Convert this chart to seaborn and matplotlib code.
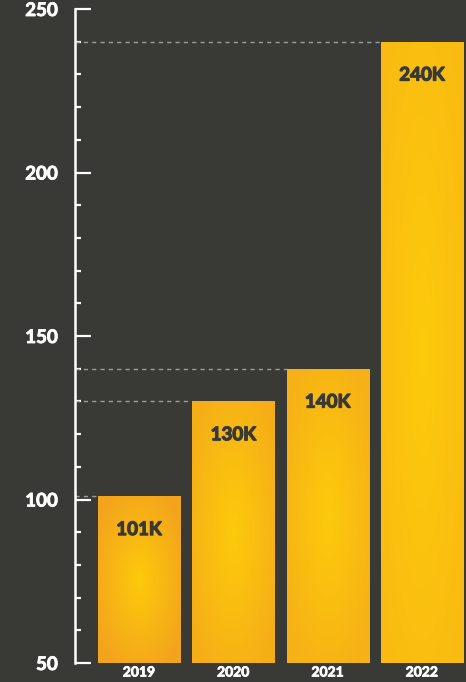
#!/usr/bin/env python3
"""Yearly totals bar chart, dark theme with gold gradient bars."""
import matplotlib
matplotlib.use("Agg")
import matplotlib.patheffects as pe
import matplotlib.pyplot as plt
import numpy as np
import pandas as pd
import seaborn as sns
from matplotlib.colors import LinearSegmentedColormap
from matplotlib.ticker import MultipleLocator

years = ["2019", "2020", "2021", "2022"]
values = [101, 130, 140, 240]
labels = ["101K", "130K", "140K", "240K"]
y_ticks = [50, 100, 150, 200, 250]

BG = "#393935"
TEXT_DARK = "#393935"
GOLD_CENTER = "#fdca0b"
GOLD_EDGE = "#f3a41d"

sns.set_theme(style="white")
plt.rcParams["font.family"] = ["Lato", "DejaVu Sans"]
plt.rcParams["font.weight"] = "bold"

df = pd.DataFrame({"year": years, "value": values})

fig = plt.figure(figsize=(4.66, 6.82), dpi=100, facecolor=BG)
ax = fig.add_axes([74.5 / 466, 19 / 682, 1 - 74.5 / 466, 654 / 682])
ax.set_facecolor(BG)

sns.barplot(data=df, x="year", y="value", ax=ax, color=GOLD_CENTER,
            width=0.87, linewidth=0, zorder=2)

# radial gradient fill, clipped to each bar; tall bars fade less to orange
cmap = LinearSegmentedColormap.from_list("gold", [GOLD_CENTER, GOLD_EDGE])
gx, gy = np.meshgrid(np.linspace(-1, 1, 200), np.linspace(-1, 1, 200))
radial = np.sqrt(gx ** 2 + gy ** 2) / 1.2
shortest = min(p.get_height() - 50 for p in ax.patches)
for patch in ax.patches:
    x0, w, top = patch.get_x(), patch.get_width(), patch.get_height()
    strength = (shortest / (top - 50)) ** 0.75
    grad = np.clip(radial, 0, 1) * strength
    im = ax.imshow(grad, cmap=cmap, vmin=0, vmax=1, aspect="auto",
                   extent=[x0, x0 + w, 50, top], origin="lower", zorder=3)
    im.set_clip_path(patch)

xlim = (-0.684, 3.467)
ax.set_xlim(*xlim)
ax.set_ylim(50, 250)

# dashed guides from the axis to each bar top
for i, v in enumerate(values):
    ax.hlines(v, xlim[0], i - 0.435, colors="#9c9c98", linestyles=(0, (3, 3)),
              linewidth=1.0, zorder=1)

thick_dark = [pe.withStroke(linewidth=0.9, foreground=TEXT_DARK)]
thick_white = [pe.withStroke(linewidth=0.6, foreground="white")]

for i, (v, lab) in enumerate(zip(values, labels)):
    ax.annotate(lab, (i, v), xytext=(0, -24), textcoords="offset points",
                ha="center", va="center", fontsize=13.5, fontweight="bold",
                color=TEXT_DARK, zorder=4, path_effects=thick_dark)

for side in ("top", "right", "bottom"):
    ax.spines[side].set_visible(False)
ax.spines["left"].set_color("white")
ax.spines["left"].set_linewidth(1.8)

ax.set_yticks(y_ticks)
ax.yaxis.set_minor_locator(MultipleLocator(10))
ax.tick_params(axis="y", which="major", direction="in", length=11.5, width=1.6,
               color="white", labelcolor="white", labelsize=13.5, pad=12,
               left=True)
ax.tick_params(axis="y", which="minor", direction="in", length=4.3, width=1.6,
               color="white", left=True)
ax.tick_params(axis="x", length=0, labelcolor="white", labelsize=10, pad=2.5)
for t in ax.get_yticklabels() + ax.get_xticklabels():
    t.set_fontweight("bold")
    t.set_path_effects(thick_white)
ax.set_xlabel("")
ax.set_ylabel("")

fig.savefig("out.png", dpi=100, facecolor=BG)
